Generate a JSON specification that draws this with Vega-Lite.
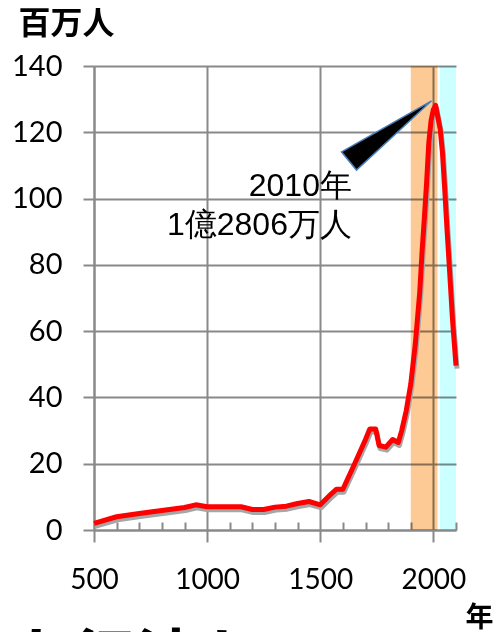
{
  "$schema": "https://vega.github.io/schema/vega-lite/v6.json",
  "autosize": "none",
  "width": 362,
  "height": 464,
  "padding": {"left": 94, "top": 66, "right": 47, "bottom": 102},
  "background": "white",
  "config": {"view": {"stroke": null}, "font": "Lato"},
  "resolve": {"scale": {"x": "shared", "y": "shared"}, "axis": {"x": "independent"}},
  "datasets": {
    "pop": [
      {"year": 500, "value": 2.0}, {"year": 600, "value": 4.0}, {"year": 700, "value": 5.0},
      {"year": 800, "value": 5.9}, {"year": 900, "value": 6.8}, {"year": 950, "value": 7.6},
      {"year": 1000, "value": 7.0}, {"year": 1100, "value": 7.0}, {"year": 1150, "value": 7.0},
      {"year": 1200, "value": 6.2}, {"year": 1250, "value": 6.2}, {"year": 1300, "value": 6.9},
      {"year": 1350, "value": 7.2}, {"year": 1400, "value": 8.0}, {"year": 1450, "value": 8.6},
      {"year": 1500, "value": 7.6}, {"year": 1550, "value": 11.0}, {"year": 1572, "value": 12.3},
      {"year": 1600, "value": 12.3}, {"year": 1650, "value": 19.7}, {"year": 1700, "value": 27.3},
      {"year": 1719, "value": 30.5}, {"year": 1745, "value": 30.5}, {"year": 1760, "value": 25.5},
      {"year": 1790, "value": 25.0}, {"year": 1820, "value": 27.3}, {"year": 1845, "value": 26.4},
      {"year": 1860, "value": 30.0}, {"year": 1880, "value": 36.0}, {"year": 1900, "value": 44.0},
      {"year": 1920, "value": 56.0}, {"year": 1940, "value": 72.0}, {"year": 1950, "value": 84.0},
      {"year": 1960, "value": 94.0}, {"year": 1970, "value": 104.7}, {"year": 1980, "value": 117.0},
      {"year": 1990, "value": 123.6}, {"year": 2000, "value": 126.9}, {"year": 2010, "value": 128.1},
      {"year": 2030, "value": 121.0}, {"year": 2040, "value": 114.0}, {"year": 2050, "value": 103.0},
      {"year": 2060, "value": 91.0}, {"year": 2070, "value": 80.0}, {"year": 2085, "value": 63.0},
      {"year": 2100, "value": 49.6}
    ],
    "bands": [
      {"year": 1900, "year_end": 2018, "era": "a"},
      {"year": 2028, "year_end": 2100, "era": "b"}
    ],
    "wedge": [
      {"order": 1, "year": 1992, "value": 129.5},
      {"order": 2, "year": 1594, "value": 114.1},
      {"order": 3, "year": 1660, "value": 108.6},
      {"order": 4, "year": 1992, "value": 129.5}
    ],
    "notes": [
      {"year": 1640, "value": 103.7, "text": "2010年"},
      {"year": 1640, "value": 92.0, "text": "1億2806万人"}
    ],
    "caption": [
      {"year": 105, "value": -30.7, "text": "人行流れ"}
    ]
  },
  "layer": [
    {
      "data": {"name": "bands"},
      "mark": {"type": "rect", "blend": "multiply"},
      "encoding": {
        "x": {
          "field": "year", "type": "quantitative",
          "scale": {"domain": [500, 2100], "nice": false, "zero": false},
          "axis": {
            "orient": "bottom",
            "values": [600, 700, 800, 900, 1100, 1200, 1300, 1400, 1600, 1700, 1800, 1900, 2100],
            "labels": false,
            "grid": false,
            "domain": false,
            "ticks": true,
            "tickColor": "#898989",
            "tickWidth": 2,
            "tickSize": -8,
            "title": null
          }
        },
        "x2": {"field": "year_end"},
        "color": {
          "field": "era", "type": "nominal",
          "scale": {"domain": ["a", "b"], "range": ["#FDCA96", "#CCFFFF"]},
          "legend": null
        }
      }
    },
    {
      "data": {"name": "pop"},
      "mark": {"type": "line", "color": "#A6A6A6", "strokeWidth": 5, "xOffset": 1, "yOffset": 3, "strokeJoin": "round"},
      "encoding": {
        "x": {
          "field": "year", "type": "quantitative",
          "axis": {
            "orient": "bottom",
            "values": [500, 1000, 1500, 2000],
            "format": "d",
            "grid": true,
            "gridColor": "#898989",
            "gridWidth": 2,
            "tickColor": "#898989",
            "tickWidth": 2,
            "tickSize": 12,
            "domainColor": "#898989",
            "domainWidth": 2,
            "labelFont": "Lato",
            "labelFontSize": 28,
            "labelColor": "black",
            "labelPadding": 24,
            "labelFlush": false,
            "labelOverlap": false,
            "title": "年",
            "titleFont": "Noto Sans CJK JP",
            "titleFontSize": 28,
            "titleFontWeight": "bold",
            "titleColor": "black",
            "titleAngle": 0,
            "titleAlign": "left",
            "titleBaseline": "top",
            "titleX": 371,
            "titleY": 74
          }
        },
        "y": {
          "field": "value", "type": "quantitative",
          "scale": {"domain": [0, 140], "nice": false},
          "axis": {
            "values": [0, 20, 40, 60, 80, 100, 120, 140],
            "grid": true,
            "gridColor": "#898989",
            "gridWidth": 2,
            "tickColor": "#898989",
            "tickWidth": 2,
            "tickSize": 11,
            "domainColor": "#898989",
            "domainWidth": 2,
            "labelFont": "Lato",
            "labelFontSize": 29,
            "labelColor": "black",
            "labelPadding": 21,
            "labelFlush": false,
            "title": "百万人",
            "titleFont": "Noto Sans CJK JP",
            "titleFontSize": 32,
            "titleFontWeight": "bold",
            "titleColor": "black",
            "titleAngle": 0,
            "titleAlign": "left",
            "titleBaseline": "top",
            "titleX": -76,
            "titleY": -58
          }
        }
      }
    },
    {
      "data": {"name": "pop"},
      "mark": {"type": "line", "color": "#FF0000", "strokeWidth": 5, "strokeJoin": "round"},
      "encoding": {
        "x": {"field": "year", "type": "quantitative", "axis": null},
        "y": {"field": "value", "type": "quantitative", "title": "百万人"}
      }
    },
    {
      "data": {"name": "wedge"},
      "mark": {"type": "line", "fill": "black", "stroke": "#4A7EBB", "strokeWidth": 1.5, "strokeJoin": "miter"},
      "encoding": {
        "x": {"field": "year", "type": "quantitative", "axis": null},
        "y": {"field": "value", "type": "quantitative", "title": "百万人"},
        "order": {"field": "order", "type": "quantitative"}
      }
    },
    {
      "data": {"name": "notes"},
      "mark": {"type": "text", "align": "right", "baseline": "middle", "font": "Liberation Sans", "fontSize": 32, "color": "black"},
      "encoding": {
        "x": {"field": "year", "type": "quantitative", "axis": null},
        "y": {"field": "value", "type": "quantitative", "title": "百万人"},
        "text": {"field": "text"}
      }
    },
    {
      "data": {"name": "caption"},
      "mark": {"type": "text", "align": "left", "baseline": "top", "font": "Noto Sans CJK JP", "fontWeight": "bold", "fontSize": 65, "color": "black"},
      "encoding": {
        "x": {"field": "year", "type": "quantitative", "axis": null},
        "y": {"field": "value", "type": "quantitative", "title": "百万人"},
        "text": {"field": "text"}
      }
    }
  ]
}
